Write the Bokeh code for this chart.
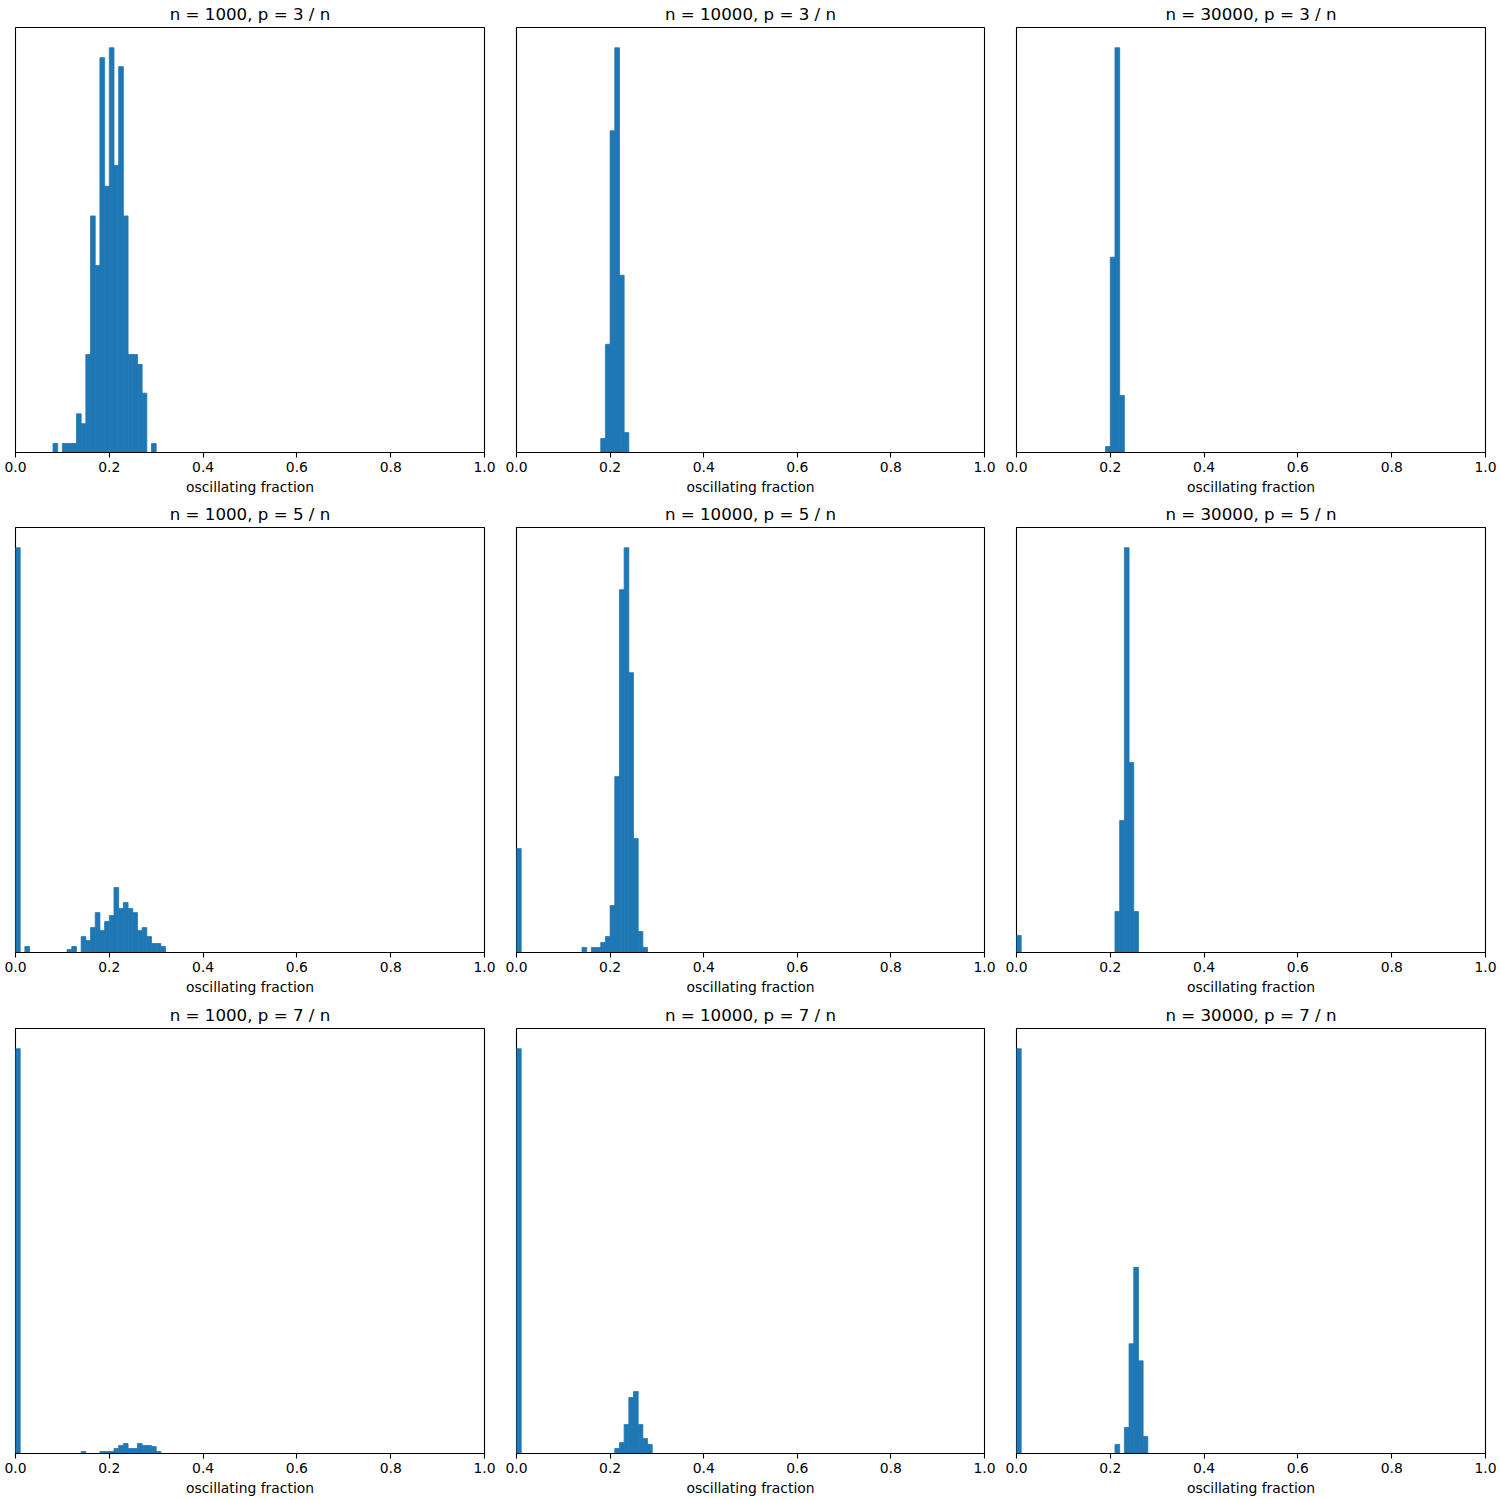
from bokeh.plotting import figure
from bokeh.models import Range1d, FixedTicker, PrintfTickFormatter
from bokeh.layouts import column, row
from bokeh.embed import file_html
from bokeh.resources import INLINE

BIN_WIDTH = 0.01
n_values = [1000, 10000, 30000]
p_values = [3, 5, 7]
x_ticks = [0.0, 0.2, 0.4, 0.6, 0.8, 1.0]
x_label = "oscillating fraction"

# ---- p = 3 / n ----
bins_n1000_p3 = [0.08, 0.10, 0.11, 0.12, 0.13, 0.14, 0.15, 0.16, 0.17, 0.18, 0.19,
                 0.20, 0.21, 0.22, 0.23, 0.24, 0.25, 0.26, 0.27, 0.29]
counts_n1000_p3 = [1.0, 1.0, 1.0, 1.0, 4.3, 3.2, 10.9, 26.3, 20.8, 43.9, 29.6,
                   45.0, 31.9, 42.9, 26.3, 10.9, 10.9, 9.8, 6.6, 1.0]

bins_n10000_p3 = [0.18, 0.19, 0.20, 0.21, 0.22, 0.23]
counts_n10000_p3 = [4.0, 31.0, 92.2, 116.0, 50.8, 5.7]

bins_n30000_p3 = [0.19, 0.20, 0.21, 0.22]
counts_n30000_p3 = [2.7, 88.3, 183.0, 25.8]

# ---- p = 5 / n ----
bins_n1000_p5 = [0.00, 0.02, 0.11, 0.12, 0.14, 0.15, 0.16, 0.17, 0.18, 0.19, 0.20,
                 0.21, 0.22, 0.23, 0.24, 0.25, 0.26, 0.27, 0.28, 0.29, 0.30, 0.31]
counts_n1000_p5 = [135.0, 2.0, 1.0, 2.0, 5.3, 4.0, 8.3, 13.3, 7.3, 10.3, 12.3,
                   21.7, 14.7, 16.7, 14.7, 13.3, 7.3, 8.3, 5.3, 3.0, 3.0, 2.0]

bins_n10000_p5 = [0.00, 0.14, 0.16, 0.17, 0.18, 0.19, 0.20, 0.21, 0.22, 0.23,
                  0.24, 0.25, 0.26, 0.27]
counts_n10000_p5 = [20.8, 1.0, 1.0, 1.0, 2.0, 3.2, 9.4, 35.2, 72.6, 81.0,
                    56.0, 22.8, 4.2, 1.0]

bins_n30000_p5 = [0.00, 0.21, 0.22, 0.23, 0.24, 0.25]
counts_n30000_p5 = [6.2, 14.9, 47.9, 147.0, 69.0, 14.9]

# ---- p = 7 / n ----
bins_n1000_p7 = [0.00, 0.14, 0.18, 0.19, 0.20, 0.21, 0.22, 0.23, 0.24, 0.25,
                 0.26, 0.27, 0.28, 0.29, 0.30]
counts_n1000_p7 = [202.0, 1.0, 1.0, 1.0, 1.0, 2.5, 4.0, 5.0, 2.5, 2.5,
                   5.0, 4.0, 4.0, 3.5, 1.0]

bins_n10000_p7 = [0.00, 0.21, 0.22, 0.23, 0.24, 0.25, 0.26, 0.27, 0.28]
counts_n10000_p7 = [81.0, 1.0, 2.2, 5.8, 11.2, 12.4, 5.8, 3.0, 1.8]

bins_n30000_p7 = [0.00, 0.21, 0.23, 0.24, 0.25, 0.26, 0.27]
counts_n30000_p7 = [45.0, 1.0, 2.9, 12.2, 20.7, 10.3, 1.9]

panels = {
    (1000, 3): (bins_n1000_p3, counts_n1000_p3),
    (10000, 3): (bins_n10000_p3, counts_n10000_p3),
    (30000, 3): (bins_n30000_p3, counts_n30000_p3),
    (1000, 5): (bins_n1000_p5, counts_n1000_p5),
    (10000, 5): (bins_n10000_p5, counts_n10000_p5),
    (30000, 5): (bins_n30000_p5, counts_n30000_p5),
    (1000, 7): (bins_n1000_p7, counts_n1000_p7),
    (10000, 7): (bins_n10000_p7, counts_n10000_p7),
    (30000, 7): (bins_n30000_p7, counts_n30000_p7),
}

BAR_COLOR = "#1f77b4"
FONT = "DejaVu Sans"

col_widths = [500, 500, 500]
col_left = [15, 16, 16]
col_frame = [469, 468, 469]
row_heights = [500, 500, 500]
row_top = [27, 27, 28]
FRAME_H = 425

rows = []
for ri, pv in enumerate(p_values):
    figs = []
    for ci, nv in enumerate(n_values):
        bins, counts = panels[(nv, pv)]
        ymax = max(counts) * 1.05
        w = col_widths[ci]
        h = row_heights[ri]
        p = figure(width=w, height=h, output_backend="svg", toolbar_location=None,
                   x_range=Range1d(0, 1), y_range=Range1d(0, ymax),
                   title=f"n = {nv}, p = {pv} / n")
        p.min_border_left = col_left[ci]
        p.min_border_right = w - col_left[ci] - col_frame[ci]
        p.min_border_top = row_top[ri]
        p.min_border_bottom = h - row_top[ri] - FRAME_H
        p.title.align = "center"
        p.title.vertical_align = "top"
        p.title.text_font = FONT
        p.title.text_font_size = "16.67px"
        p.title.text_font_style = "normal"
        p.title.text_color = "black"
        p.title.standoff = 4
        p.background_fill_color = "white"
        p.border_fill_color = "white"
        p.outline_line_color = "black"
        p.outline_line_width = 1.1
        p.xgrid.visible = False
        p.ygrid.visible = False
        p.yaxis.visible = False

        ax = p.xaxis[0]
        ax.ticker = FixedTicker(ticks=x_ticks)
        ax.formatter = PrintfTickFormatter(format="%.1f")
        ax.axis_label = x_label
        ax.axis_label_text_font = FONT
        ax.axis_label_text_font_size = "13.9px"
        ax.axis_label_text_font_style = "normal"
        ax.axis_label_text_color = "black"
        ax.axis_label_standoff = 4
        ax.major_label_text_font = FONT
        ax.major_label_text_font_size = "13.9px"
        ax.major_label_text_color = "black"
        ax.major_label_standoff = 4
        ax.major_tick_in = 0
        ax.major_tick_out = 5
        ax.major_tick_line_width = 1.1
        ax.major_tick_line_color = "black"
        ax.minor_tick_line_color = None
        ax.axis_line_color = "black"
        ax.axis_line_width = 1.1

        lefts = [b for b in bins]
        rights = [b + BIN_WIDTH for b in bins]
        p.quad(left=lefts, right=rights, bottom=0, top=counts,
               fill_color=BAR_COLOR, line_color=BAR_COLOR, line_width=0.8)
        figs.append(p)
    rows.append(row(*figs, spacing=0))

layout = column(*rows, spacing=0)
open("out.html", "w").write(file_html(layout, INLINE))
